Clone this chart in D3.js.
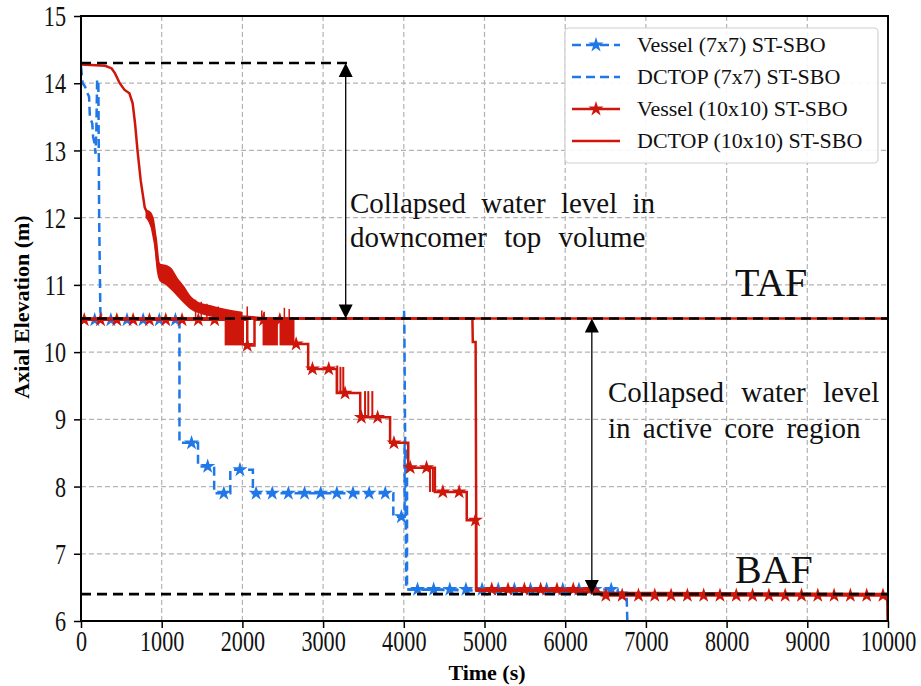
<!DOCTYPE html>
<html>
<head>
<meta charset="utf-8">
<script src="https://cdn.jsdelivr.net/npm/d3@7"></script>
<style>
  body { margin: 0; background: #fff; }
  text { font-family: "Times New Roman", "Liberation Serif", serif; }
</style>
</head>
<body>
<div id="chart"></div>
<script>
// ---- data ----
const xTicks = [0, 1000, 2000, 3000, 4000, 5000, 6000, 7000, 8000, 9000, 10000];
const yTicks = [6, 7, 8, 9, 10, 11, 12, 13, 14, 15];

// DCTOP (10x10), red solid
const dctop10 = [[0,14.28],[300,14.26],[380,14.22],[420,14.15],[480,14.0],[540,13.9],[600,13.85],[640,13.7],[670,13.4],[700,13.0],[740,12.55],[790,12.15],[830,12.05],[880,11.85],[920,11.6],[950,11.3],[1000,11.2],[1050,11.18],[1120,11.08],[1200,10.95],[1280,10.85],[1350,10.74],[1450,10.65],[1600,10.6],[1800,10.56],[2000,10.53],[2300,10.5],[4850,10.5],[4855,10.15],[4890,10.15],[4900,6.45],[6000,6.45],[6500,6.42],[9990,6.4],[9995,6.0]];
// oscillation envelope of DCTOP (10x10): [t, low, high]
const dctop10Band = [[800,12.0,12.12],[850,11.9,12.1],[900,11.7,12.0],[940,11.2,11.7],[980,11.05,11.32],[1050,11.0,11.3],[1120,10.92,11.25],[1200,10.82,11.1],[1280,10.72,10.98],[1350,10.64,10.85],[1450,10.58,10.75],[1600,10.53,10.7],[1800,10.5,10.64],[2000,10.5,10.6]];
const dctop10Spikes = [[1420,10.78],[1490,10.75],[1560,10.72],[1700,10.68],[2060,10.68],[2240,10.62],[2270,10.6],[2520,10.66],[2580,10.64]];

// Vessel (10x10), red with stars (step)
const vessel10 = [[0,10.48],[2060,10.48],[2060,10.1],[2150,10.1],[2150,10.48],[2630,10.48],[2630,10.12],[2815,10.12],[2815,9.75],[3170,9.75],[3170,9.39],[3460,9.39],[3460,9.03],[3830,9.03],[3830,8.65],[4055,8.65],[4055,8.28],[4385,8.28],[4385,7.92],[4780,7.92],[4780,7.5],[4895,7.5],[4895,6.47],[6400,6.47],[6450,6.38],[10000,6.38]];
// rapid toggling of Vessel (10x10): [t0, t1, low, high]
const vessel10Flicker = [[1780,2020,10.1,10.48],[2250,2440,10.1,10.48],[2460,2630,10.1,10.48]];
const vessel10Spikes = [[3175,9.39,9.8],[3215,9.39,9.78],[3250,9.39,9.78],[3520,9.03,9.42],[3560,9.03,9.42],[3610,9.03,9.42],[4325,7.92,8.28],[4360,7.92,8.28]];

// DCTOP (7x7), blue dashed
const dctop7 = [[0,14.25],[20,14.0],[50,13.95],[80,13.85],[100,13.8],[110,13.5],[140,13.4],[150,13.2],[170,13.1],[180,12.95],[190,13.3],[200,14.05],[215,14.05],[225,12.0],[240,10.6],[260,10.5],[4000,10.5],[4003,10.62],[4006,10.5],[4030,6.47],[6760,6.42],[6770,6.0]];

// Vessel (7x7), blue dashed with stars (step)
const vessel7 = [[0,10.48],[1220,10.48],[1220,8.65],[1450,8.65],[1450,8.3],[1650,8.3],[1650,7.9],[1850,7.9],[1850,8.25],[2130,8.25],[2130,7.9],[3870,7.9],[3870,7.55],[4010,7.55],[4010,8.6],[4040,8.6],[4040,6.47],[6650,6.47],[6650,6.42],[6760,6.42]];

const markStep = 202;
const vessel10MarkStart = 40;
const vessel7MarkStart = 170;

const TAF = 10.5, BAF = 6.4, DCTOP0 = 14.3;

const seriesNames = ["Vessel (7x7) ST-SBO", "DCTOP (7x7) ST-SBO", "Vessel (10x10) ST-SBO", "DCTOP (10x10) ST-SBO"];

// ---- layout ----
const width = 921, height = 686;
const margin = { top: 16, right: 33, bottom: 65, left: 81 };
const blue = "#1f78e6", red = "#cf160b";
const serif = "'Times New Roman', 'Liberation Serif', serif";

const x = d3.scaleLinear().domain([0, 10000]).range([margin.left, width - margin.right]);
const y = d3.scaleLinear().domain([6, 15]).range([height - margin.bottom, margin.top]);

const svg = d3.select("#chart").append("svg")
  .attr("width", width).attr("height", height)
  .style("display", "block");

svg.append("defs").append("clipPath").attr("id", "clip")
  .append("rect")
  .attr("x", margin.left).attr("y", margin.top)
  .attr("width", x.range()[1] - x.range()[0])
  .attr("height", y.range()[0] - y.range()[1]);

// grid
const grid = svg.append("g").attr("stroke", "#b3b3b3").attr("stroke-width", 1.2).attr("stroke-dasharray", "5,3");
grid.selectAll("line.gx").data(xTicks.slice(1, -1)).join("line")
  .attr("x1", (d) => x(d)).attr("x2", (d) => x(d))
  .attr("y1", y(6)).attr("y2", y(15));
grid.selectAll("line.gy").data(yTicks.slice(1, -1)).join("line")
  .attr("x1", x(0)).attr("x2", x(10000))
  .attr("y1", (d) => y(d)).attr("y2", (d) => y(d));

const plot = svg.append("g").attr("clip-path", "url(#clip)");

const line = d3.line().x((d) => x(d[0])).y((d) => y(d[1]));
const stepAt = (data, t) => {
  let v = null;
  for (const d of data) { if (d[0] <= t) v = d[1]; }
  return v;
};
const star = d3.symbol().type(d3.symbolStar).size(70);

// blue series
plot.append("path").datum(vessel7)
  .attr("fill", "none").attr("stroke", blue).attr("stroke-width", 2.5)
  .attr("stroke-dasharray", "9,5").attr("d", line);
plot.append("path").datum(dctop7)
  .attr("fill", "none").attr("stroke", blue).attr("stroke-width", 2.5)
  .attr("stroke-dasharray", "9,5").attr("d", line);

const v7Marks = d3.range(vessel7MarkStart, 6760, 200).map((t) => [t, stepAt(vessel7, t)]);
plot.append("g").selectAll("path").data(v7Marks).join("path")
  .attr("transform", (d) => `translate(${x(d[0])},${y(d[1])})`)
  .attr("d", star).attr("fill", blue);

// red line under TAF dashes
plot.append("line")
  .attr("x1", x(0)).attr("x2", x(10000))
  .attr("y1", y(TAF)).attr("y2", y(TAF))
  .attr("stroke", red).attr("stroke-width", 2.5);

// DCTOP 10x10 envelope + spikes
plot.append("path")
  .datum(dctop10Band)
  .attr("fill", red)
  .attr("d", d3.area().curve(d3.curveMonotoneX).x((d) => x(d[0])).y0((d) => y(d[1])).y1((d) => y(d[2])));
plot.append("g").selectAll("line").data(dctop10Spikes).join("line")
  .attr("x1", (d) => x(d[0])).attr("x2", (d) => x(d[0]))
  .attr("y1", y(TAF)).attr("y2", (d) => y(d[1]))
  .attr("stroke", red).attr("stroke-width", 1.5);

// Vessel 10x10 flicker
plot.append("g").selectAll("rect").data(vessel10Flicker).join("rect")
  .attr("x", (d) => x(d[0])).attr("width", (d) => x(d[1]) - x(d[0]))
  .attr("y", (d) => y(d[3])).attr("height", (d) => y(d[2]) - y(d[3]))
  .attr("fill", red);
plot.append("g").selectAll("line").data(vessel10Spikes).join("line")
  .attr("x1", (d) => x(d[0])).attr("x2", (d) => x(d[0]))
  .attr("y1", (d) => y(d[1])).attr("y2", (d) => y(d[2]))
  .attr("stroke", red).attr("stroke-width", 2);

// red series
plot.append("path").datum(vessel10)
  .attr("fill", "none").attr("stroke", red).attr("stroke-width", 2.5).attr("d", line);
plot.append("path").datum(dctop10)
  .attr("fill", "none").attr("stroke", red).attr("stroke-width", 2.5).attr("d", line);

const v10Marks = d3.range(vessel10MarkStart, 10000, markStep).map((t) => [t, stepAt(vessel10, t)]);
plot.append("g").selectAll("path").data(v10Marks).join("path")
  .attr("transform", (d) => `translate(${x(d[0])},${y(d[1])})`)
  .attr("d", star).attr("fill", red);

// reference lines
const ref = svg.append("g").attr("stroke", "#000").attr("stroke-width", 2.6).attr("stroke-dasharray", "10,6");
ref.append("line").attr("x1", x(0)).attr("x2", x(10000)).attr("y1", y(TAF)).attr("y2", y(TAF));
ref.append("line").attr("x1", x(0)).attr("x2", x(10000)).attr("y1", y(BAF)).attr("y2", y(BAF));
ref.append("line").attr("x1", x(0)).attr("x2", x(3300)).attr("y1", y(DCTOP0)).attr("y2", y(DCTOP0));

// double arrows
const arrows = [{ t: 3280, a: DCTOP0, b: TAF }, { t: 6330, a: TAF, b: BAF }];
const arrowG = svg.append("g");
arrows.forEach((ar) => {
  const xa = x(ar.t), ya = y(ar.a), yb = y(ar.b);
  arrowG.append("line").attr("x1", xa).attr("x2", xa).attr("y1", ya + 12).attr("y2", yb - 12)
    .attr("stroke", "#000").attr("stroke-width", 1.3);
  arrowG.append("path").attr("d", `M${xa},${ya}L${xa - 7},${ya + 14}L${xa + 7},${ya + 14}Z`).attr("fill", "#000");
  arrowG.append("path").attr("d", `M${xa},${yb}L${xa - 7},${yb - 14}L${xa + 7},${yb - 14}Z`).attr("fill", "#000");
});

// axes (tick labels are tall and narrow in the original)
const squeeze = 0.74;
const xAxis = svg.append("g").attr("transform", `translate(0,${y(6)})`)
  .call(d3.axisBottom(x).tickValues(xTicks).tickSize(7).tickPadding(2).tickFormat(d3.format("d")));
const yAxis = svg.append("g").attr("transform", `translate(${x(0)},0)`)
  .call(d3.axisLeft(y).tickValues(yTicks).tickSize(7).tickPadding(8));
[xAxis, yAxis].forEach((g) => {
  g.select(".domain").remove();
  g.selectAll(".tick line").attr("stroke", "#000").attr("stroke-width", 1.5);
  g.selectAll(".tick text").attr("fill", "#111").style("font-size", "30px")
    .style("font-family", serif).attr("transform", `scale(${squeeze},1)`);
});
yAxis.selectAll(".tick text").attr("x", -15 / squeeze);

// frame
svg.append("rect")
  .attr("x", x(0)).attr("y", y(15))
  .attr("width", x(10000) - x(0)).attr("height", y(6) - y(15))
  .attr("fill", "none").attr("stroke", "#000").attr("stroke-width", 2);

// axis titles
svg.append("text").attr("x", 487).attr("y", 680)
  .attr("text-anchor", "middle").attr("font-weight", "bold").attr("font-size", 22).text("Time (s)");
svg.append("text").attr("transform", "translate(29,307) rotate(-90)")
  .attr("text-anchor", "middle").attr("font-weight", "bold").attr("font-size", 22).text("Axial Elevation (m)");

// annotations
const note = svg.append("g").attr("fill", "#111").attr("font-size", 29);
note.append("text").attr("x", 350).attr("y", 213).attr("word-spacing", 8).text("Collapsed water level in");
note.append("text").attr("x", 350).attr("y", 247).attr("word-spacing", 10).text("downcomer top volume");
note.append("text").attr("x", 608).attr("y", 402).attr("word-spacing", 10).text("Collapsed water level");
note.append("text").attr("x", 608).attr("y", 438).attr("word-spacing", 5).text("in active core region");
note.append("text").attr("x", 735).attr("y", 296).attr("font-size", 40).text("TAF");
note.append("text").attr("x", 735).attr("y", 583).attr("font-size", 40).text("BAF");

// legend
const legend = svg.append("g");
legend.append("rect").attr("x", 565).attr("y", 28).attr("width", 313).attr("height", 135).attr("rx", 4)
  .attr("fill", "#fff").attr("fill-opacity", 0.9).attr("stroke", "#d0d0d0").attr("stroke-width", 1.2);
const legendItems = [
  { name: seriesNames[0], color: blue, dash: "9,5", mark: true },
  { name: seriesNames[1], color: blue, dash: "9,5", mark: false },
  { name: seriesNames[2], color: red, dash: null, mark: true },
  { name: seriesNames[3], color: red, dash: null, mark: false }
];
legendItems.forEach((it, i) => {
  const ly = 45 + i * 32;
  legend.append("line").attr("x1", 572).attr("x2", 620).attr("y1", ly).attr("y2", ly)
    .attr("stroke", it.color).attr("stroke-width", 2.5).attr("stroke-dasharray", it.dash);
  if (it.mark) {
    legend.append("path").attr("transform", `translate(596,${ly})`).attr("d", star).attr("fill", it.color);
  }
  legend.append("text").attr("x", 637).attr("y", ly + 7).attr("font-size", 22).attr("fill", "#111").text(it.name);
});
</script>
</body>
</html>
